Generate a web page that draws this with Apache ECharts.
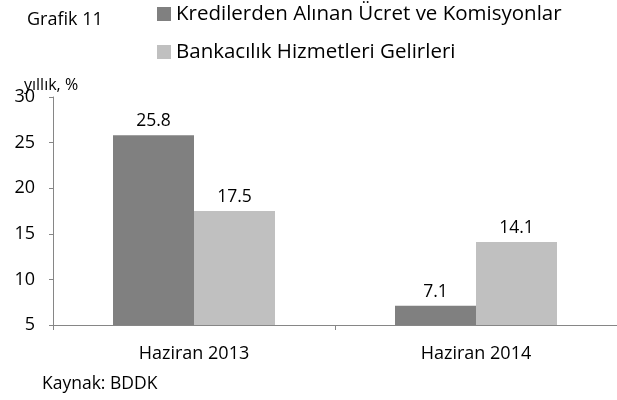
<!DOCTYPE html>
<html>
<head>
<meta charset="utf-8">
<script src="https://cdn.jsdelivr.net/npm/echarts@6/dist/echarts.min.js"></script>
<style>
  html, body { margin: 0; padding: 0; background: #fff; }
  #chart { width: 617px; height: 400px; }
</style>
</head>
<body>
<div id="chart"></div>
<script>
// data
const categories = ['Haziran 2013', 'Haziran 2014']
const krediler = [25.8, 7.1]
const bankacilik = [17.5, 14.1]
const seriesNames = ['Kredilerden Alınan Ücret ve Komisyonlar', 'Bankacılık Hizmetleri Gelirleri']

const font = '"Open Sans", "Liberation Sans", sans-serif'
const myChart = echarts.init(document.getElementById('chart'))

const labelStyle = {
  show: true,
  position: 'top',
  distance: 5,
  fontFamily: font,
  fontSize: 17.5,
  color: '#000'
}

const txt = (size) => ({ fontSize: size, fontWeight: 'normal', color: '#000', fontFamily: font })

myChart.setOption({
  animation: false,
  textStyle: { fontFamily: font },
  title: [
    { text: 'Grafik 11', left: 27, top: 11, padding: 0, textStyle: txt(18) },
    { text: 'yıllık, %', left: 24, top: 77, padding: 0, textStyle: txt(16) },
    { text: 'Kaynak: BDDK', left: 42, top: 375, padding: 0, textStyle: txt(17.5) }
  ],
  legend: {
    orient: 'vertical',
    left: 157,
    top: 3,
    padding: 0,
    itemWidth: 14,
    itemHeight: 14,
    itemGap: 16,
    icon: 'rect',
    textStyle: { fontSize: 20.5, lineHeight: 22, color: '#000', fontFamily: font },
    data: seriesNames
  },
  grid: {
    left: 53,
    top: 97,
    width: 568,
    height: 228
  },
  xAxis: {
    type: 'category',
    data: categories,
    axisLine: { lineStyle: { color: '#868686', width: 1 } },
    axisTick: { show: true, length: 5, lineStyle: { color: '#868686' } },
    axisLabel: { fontSize: 18, color: '#000', margin: 20, fontFamily: font }
  },
  yAxis: {
    type: 'value',
    min: 5,
    max: 30,
    interval: 5,
    splitLine: { show: false },
    axisLine: { show: true, lineStyle: { color: '#868686' } },
    axisTick: { show: true, length: 4, lineStyle: { color: '#868686' } },
    axisLabel: { fontSize: 18, color: '#000', margin: 18, fontFamily: font }
  },
  series: [
    {
      name: seriesNames[0],
      type: 'bar',
      data: krediler,
      barWidth: 81,
      barGap: '0%',
      itemStyle: { color: '#808080' },
      label: labelStyle
    },
    {
      name: seriesNames[1],
      type: 'bar',
      data: bankacilik,
      barWidth: 81,
      itemStyle: { color: '#c0c0c0' },
      label: labelStyle
    }
  ]
})
</script>
</body>
</html>
